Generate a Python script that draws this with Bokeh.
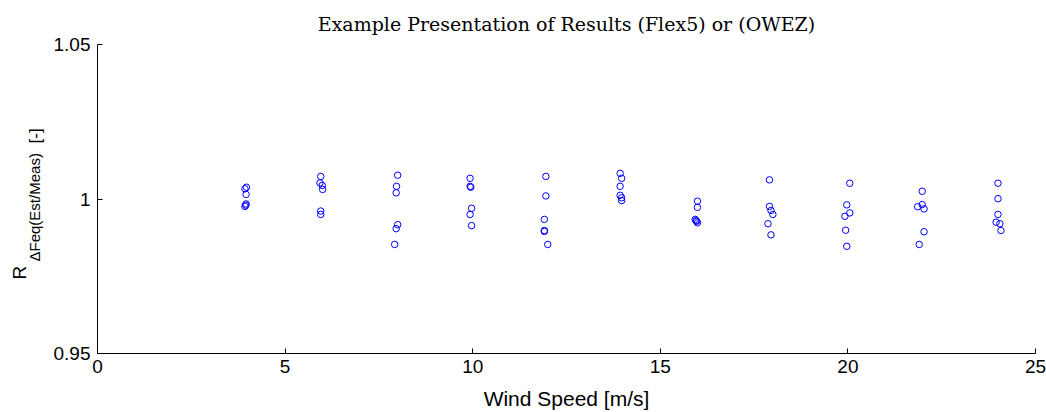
import math
from bokeh.plotting import figure
from bokeh.layouts import row
from bokeh.models import Range1d, FixedTicker, ColumnDataSource
from bokeh.core.properties import value
from bokeh.embed import file_html
from bokeh.resources import INLINE

# ---- data (wind speed [m/s], ratio Est/Meas [-]) ----
ws_04 = [3.93, 3.97, 3.96, 3.96, 3.93, 3.95]
r_04 = [1.0033, 1.0038, 1.0015, 0.9984, 0.9976, 0.9980]
ws_06 = [5.95, 5.93, 5.99, 6.00, 5.95, 5.95]
r_06 = [1.0073, 1.0052, 1.0044, 1.0031, 0.9961, 0.9950]
ws_08 = [8.00, 7.97, 7.96, 8.00, 7.96, 7.92]
r_08 = [1.0077, 1.0041, 1.0020, 0.9917, 0.9904, 0.9853]
ws_10 = [9.93, 9.93, 9.95, 9.97, 9.93, 9.97]
r_10 = [1.0067, 1.0041, 1.0038, 0.9970, 0.9950, 0.9914]
ws_12 = [11.95, 11.95, 11.91, 11.91, 11.91, 12.00]
r_12 = [1.0073, 1.0010, 0.9934, 0.9898, 0.9895, 0.9853]
ws_14 = [13.93, 13.97, 13.93, 13.93, 13.97, 13.97]
r_14 = [1.0083, 1.0067, 1.0041, 1.0012, 1.0004, 0.9995]
ws_16 = [15.99, 15.99, 15.93, 15.97, 15.99, 15.95]
r_16 = [0.9993, 0.9973, 0.9934, 0.9928, 0.9923, 0.9930]
ws_18 = [17.91, 17.91, 17.95, 18.00, 17.87, 17.95]
r_18 = [1.0062, 0.9976, 0.9963, 0.9950, 0.9920, 0.9884]
ws_20 = [20.05, 19.97, 20.05, 19.92, 19.94, 19.97]
r_20 = [1.0051, 0.9981, 0.9955, 0.9944, 0.9899, 0.9847]
ws_22 = [21.98, 21.98, 21.86, 22.03, 22.03, 21.90]
r_22 = [1.0025, 0.9982, 0.9975, 0.9968, 0.9894, 0.9853]
ws_24 = [24.00, 24.00, 24.00, 23.95, 24.05, 24.08]
r_24 = [1.0051, 1.0001, 0.9950, 0.9925, 0.9920, 0.9898]

x_ticks = [0, 5, 10, 15, 20, 25]
y_ticks = [0.95, 1, 1.05]
y_tick_labels = ["0.95", "1", "1.05"]

title_text = "Example Presentation of Results (Flex5) or (OWEZ)"
x_label = "Wind Speed [m/s]"
y_label_parts = ["R", "\u0394Feq(Est/Meas)", "[-]"]

wind_speed = ws_04 + ws_06 + ws_08 + ws_10 + ws_12 + ws_14 + ws_16 + ws_18 + ws_20 + ws_22 + ws_24
ratio = r_04 + r_06 + r_08 + r_10 + r_12 + r_14 + r_16 + r_18 + r_20 + r_22 + r_24
source = ColumnDataSource(data=dict(ws=wind_speed, r=ratio))

H = 412
LBL_W = 50
TOP, BOTTOM = 44, 59

p = figure(width=1046 - LBL_W, height=H, output_backend="svg", toolbar_location=None,
           x_range=Range1d(0, 25), y_range=Range1d(0.95, 1.05),
           min_border_left=97 - LBL_W, min_border_right=11,
           min_border_top=TOP, min_border_bottom=BOTTOM,
           title=title_text)

p.title.align = "center"
p.title.text_font = "DejaVu Serif"
p.title.text_font_size = "19px"
p.title.text_font_style = "normal"
p.title.text_color = "black"
p.title.offset = 22
p.title.standoff = 20

p.outline_line_color = None
p.xgrid.visible = False
p.ygrid.visible = False
p.background_fill_color = "white"
p.border_fill_color = "white"

for ax in (p.xaxis[0], p.yaxis[0]):
    ax.axis_line_color = "black"
    ax.axis_line_width = 1
    ax.major_tick_in = 5
    ax.major_tick_out = 0
    ax.minor_tick_line_color = None
    ax.major_tick_line_color = "black"
    ax.major_label_text_font = "Liberation Sans"
    ax.major_label_text_font_size = "19px"
    ax.major_label_text_color = "black"

p.xaxis[0].ticker = FixedTicker(ticks=x_ticks)
p.xaxis[0].major_label_standoff = 6
p.xaxis[0].axis_label = x_label
p.xaxis[0].axis_label_text_font = "Liberation Sans"
p.xaxis[0].axis_label_text_font_size = "21px"
p.xaxis[0].axis_label_text_font_style = "normal"
p.xaxis[0].axis_label_text_color = "black"
p.xaxis[0].axis_label_standoff = 11

p.yaxis[0].ticker = FixedTicker(ticks=y_ticks)
p.yaxis[0].major_label_overrides = {t: s for t, s in zip(y_ticks, y_tick_labels)}
p.yaxis[0].major_label_standoff = 7

p.scatter("ws", "r", source=source, marker="circle", size=6.5,
          fill_color=None, line_color="#0000ff", line_width=1)

# ---- y-axis label R_{ΔFeq(Est/Meas)} [-] in a narrow strip on the left ----
# the strip's frame spans the same rows as the main frame; its data
# coordinates equal page pixel coordinates (y measured downward)
lab = figure(width=LBL_W, height=H, output_backend="svg", toolbar_location=None,
             x_range=Range1d(0, LBL_W), y_range=Range1d(H - BOTTOM, TOP),
             min_border_left=0, min_border_right=0,
             min_border_top=TOP, min_border_bottom=BOTTOM,
             x_axis_location=None, y_axis_location=None)
lab.outline_line_color = None
lab.xgrid.visible = False
lab.ygrid.visible = False
lab.background_fill_color = "white"
lab.border_fill_color = "white"

lab_src = ColumnDataSource(data=dict(
    x=[19, 34, 35],
    y=[279, 261, 143],
    txt=y_label_parts,
    size=["19px", "15px", "17px"],
))
lab.text(x="x", y="y", text="txt", source=lab_src, angle=math.pi / 2,
         text_font=value("Liberation Sans"), text_font_size="size",
         text_align="left", text_baseline="middle", text_color="black")

layout = row(lab, p, spacing=0)
open("out.html", "w").write(file_html(layout, INLINE))
